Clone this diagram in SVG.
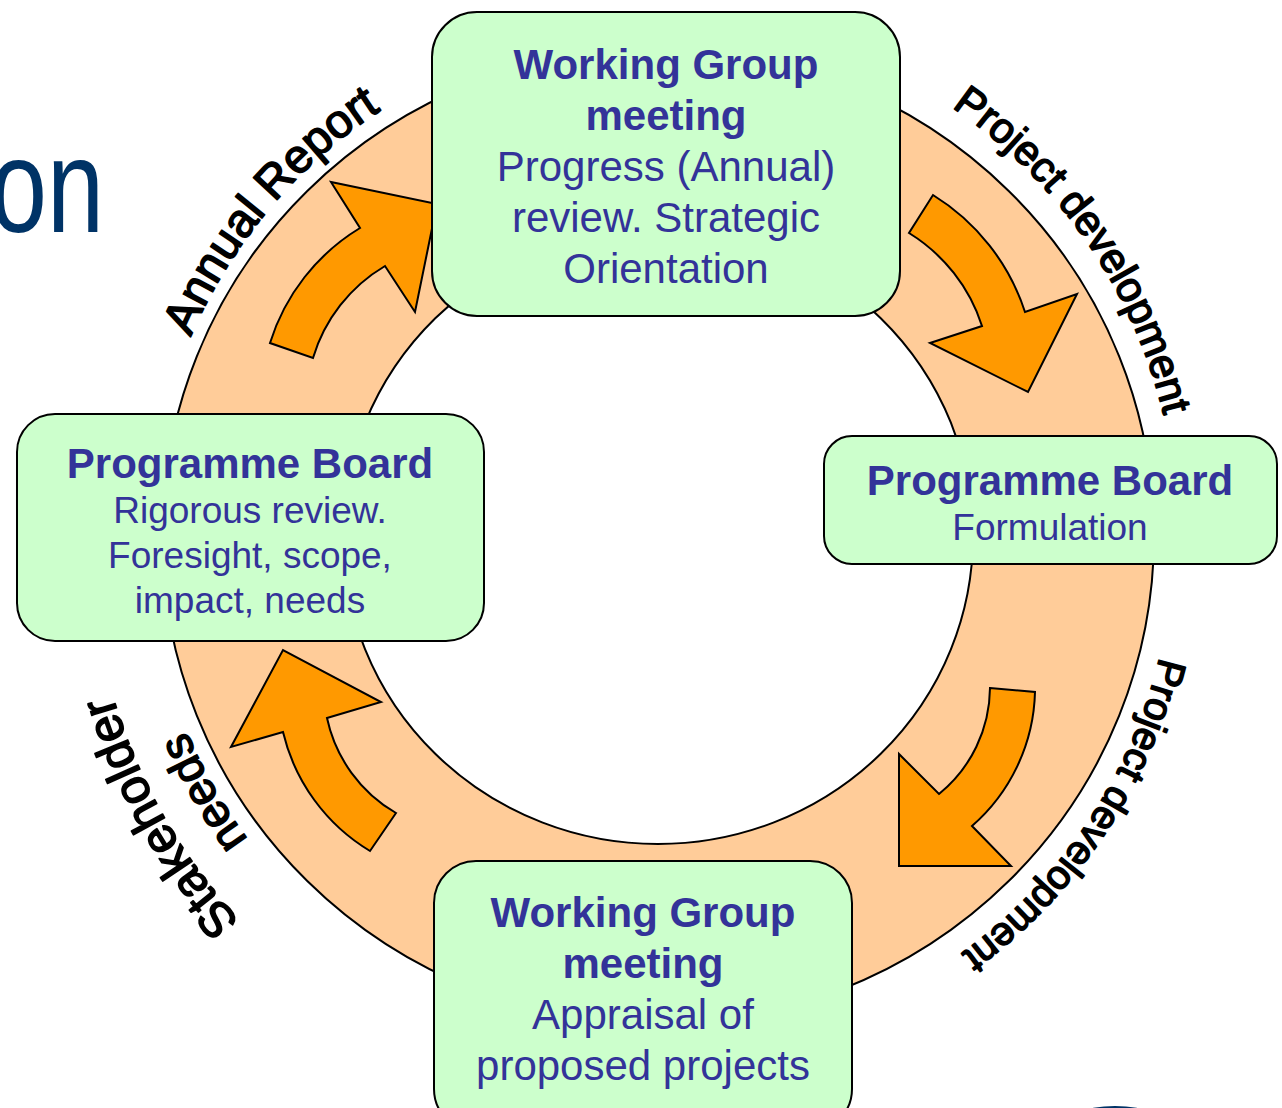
<svg xmlns="http://www.w3.org/2000/svg" width="1282" height="1108" viewBox="0 0 1282 1108">
<style>
.box{fill:#CCFFCC;stroke:#000;stroke-width:2}
.ring{fill:#FFCC99;stroke:#000;stroke-width:2;fill-rule:evenodd}
.arrow{fill:#FF9900;stroke:#000;stroke-width:2;stroke-linejoin:miter}
.t{font-family:"Liberation Sans",Arial,sans-serif;fill:#333399;text-anchor:middle}
.b{font-weight:bold;font-size:42px}
.r42{font-size:42px}
.r37{font-size:37px}
.arc{font-family:"Liberation Sans",Arial,sans-serif;fill:#000;stroke:#000;stroke-width:1.6;stroke-linejoin:round;text-anchor:middle}
</style>
<defs>
<path id="pAnnual" d="M298.8,895.2 A508,508 0 0 1 949.4,119.9"/>
<path id="pTR" d="M402,83.4 A520,520 0 0 1 988.8,937.2"/>
<path id="pBR" d="M945.1,107.2 A516,516 0 0 1 370.9,964.8"/>
<path id="pStake" d="M893.5,1052.9 A568,568 0 0 1 336.3,67.9"/>
<path id="pNeeds" d="M869.5,1000.1 A510,510 0 0 1 369.1,115.7"/>
</defs>
<rect width="1282" height="1108" fill="#fff"/>
<g id="title-fragment" transform="translate(104,232) scale(0.77,1)">
<text x="0" y="0" font-family="'Liberation Sans',Arial,sans-serif" font-size="133" fill="#003366" text-anchor="end">on</text>
</g>
<ellipse cx="1115" cy="1128" rx="56" ry="22" fill="#003366"/>
<g id="ring">
<path class="ring" d="M162,536 A496,488 0 1 1 1154,536 A496,488 0 1 1 162,536 Z M343,536 A315,308 0 1 0 973,536 A315,308 0 1 0 343,536 Z"/>
</g>
<g id="connectors">
<path class="arrow" d="M270,343 A206,206 0 0 1 360,228 L331,182 L437,204 L415,312 L385,266 A160,160 0 0 0 313,358 Z"/>
<path class="arrow" d="M933,195 A216,216 0 0 1 1025,312 L1077,294 L1028,392 L930,343 L982,326 A171,171 0 0 0 909,233 Z"/>
<path class="arrow" d="M990,688 L1035,692 A184,184 0 0 1 972,826 L1011,866 L899,866 L899,754 L939,794 A138,138 0 0 0 990,688 Z"/>
<path class="arrow" d="M396,813 L370,851 A190,190 0 0 1 283,732 L231,747 L283,650 L381,702 L327,718 A145,145 0 0 0 396,813 Z"/>
</g>
<g id="arc-labels">
<text class="arc" font-size="47"><textPath href="#pAnnual" startOffset="50%">Annual Report</textPath></text>
<text class="arc" font-size="42"><textPath href="#pTR" startOffset="50%">Project development</textPath></text>
<text class="arc" font-size="40"><textPath href="#pBR" startOffset="50%">Project development</textPath></text>
<text class="arc" font-size="49"><textPath href="#pStake" startOffset="50%">Stakeholder</textPath></text>
<text class="arc" font-size="46"><textPath href="#pNeeds" startOffset="50%">needs</textPath></text>
</g>
<g id="node-wg-top">
<rect class="box" x="432" y="12" width="468" height="304" rx="45" ry="45"/>
<text class="t b" x="666" y="79">Working Group</text>
<text class="t b" x="666" y="130">meeting</text>
<text class="t r42" x="666" y="181">Progress (Annual)</text>
<text class="t r42" x="666" y="232">review. Strategic</text>
<text class="t r42" x="666" y="283">Orientation</text>
</g>
<g id="node-pb-left">
<rect class="box" x="17" y="414" width="467" height="227" rx="38" ry="38"/>
<text class="t b" x="250" y="478">Programme Board</text>
<text class="t r37" x="250" y="523">Rigorous review.</text>
<text class="t r37" x="250" y="568">Foresight, scope,</text>
<text class="t r37" x="250" y="613">impact, needs</text>
</g>
<g id="node-pb-right">
<rect class="box" x="824" y="436" width="453" height="128" rx="28" ry="28"/>
<text class="t b" x="1050" y="495">Programme Board</text>
<text class="t r37" x="1050" y="540">Formulation</text>
</g>
<g id="node-wg-bottom">
<rect class="box" x="434" y="861" width="418" height="270" rx="42" ry="42"/>
<text class="t b" x="643" y="927">Working Group</text>
<text class="t b" x="643" y="978">meeting</text>
<text class="t r42" x="643" y="1029">Appraisal of</text>
<text class="t r42" x="643" y="1080">proposed projects</text>
</g>
</svg>
